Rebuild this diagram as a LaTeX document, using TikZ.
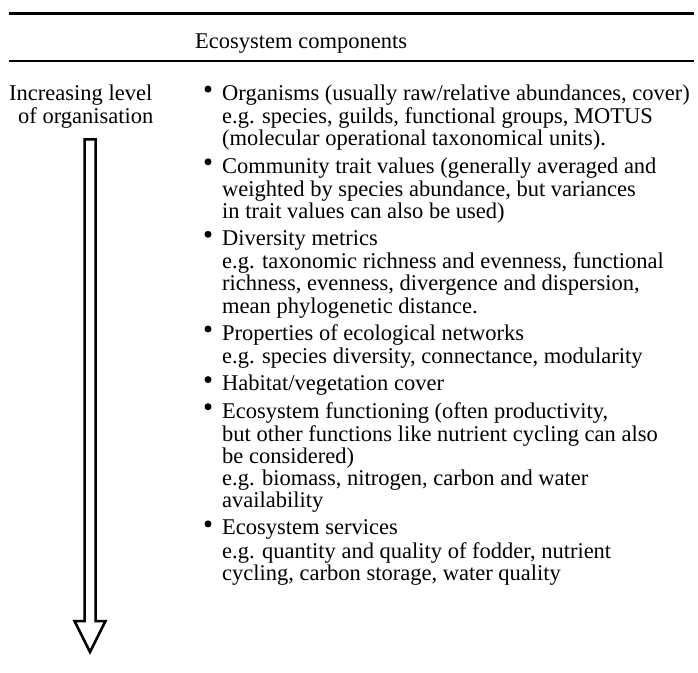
\documentclass[tikz,border=0pt]{standalone}
\usepackage{fontspec}
\setmainfont{Liberation Serif}
\usetikzlibrary{positioning}

\tikzset{
  rule/.style={line width=2.3pt},
  txt/.style={inner sep=0pt, font=\fontsize{22.5}{22.1}\selectfont},
  entry/.style={txt, anchor=north west, align=left},
  dot/.style={circle, fill, inner sep=0pt, minimum size=7pt},
}

\begin{document}
\begin{tikzpicture}[x=1pt, y=1pt]
\useasboundingbox (0,0) rectangle (698,-672);

% rules of the table head
\draw[rule] (9,-13.5) -- (694,-13.5);
\draw[rule] (9,-61) -- (694,-61);

\node[txt, anchor=base west] (head) at (195,-48) {Ecosystem components};
\node[entry] (level) at (9,-84.5)
  {\strut Increasing level\\\hspace*{9pt}of organisation};

% the list of components
\node[entry] (org) at (222,-84.5)
  {\strut Organisms (usually raw/relative abundances, cover)\\
   e.g. species, guilds, functional groups, MOTUS\\
   (molecular operational taxonomical units).\strut};
\node[entry, below=4.5pt of org.south west, anchor=north west] (trait)
  {\strut Community trait values (generally averaged and\\
   weighted by species abundance, but variances\\
   in trait values can also be used)\strut};
\node[entry, below=4.5pt of trait.south west, anchor=north west] (div)
  {\strut Diversity metrics\\
   e.g. taxonomic richness and evenness, functional\\
   richness, evenness, divergence and dispersion,\\
   mean phylogenetic distance.\strut};
\node[entry, below=4.5pt of div.south west, anchor=north west] (net)
  {\strut Properties of ecological networks\\
   e.g. species diversity, connectance, modularity\strut};
\node[entry, below=4.5pt of net.south west, anchor=north west] (hab)
  {\strut Habitat/vegetation cover\strut};
\node[entry, below=4.5pt of hab.south west, anchor=north west] (func)
  {\strut Ecosystem functioning (often productivity,\\
   but other functions like nutrient cycling can also\\
   be considered)\\
   e.g. biomass, nitrogen, carbon and water\\
   availability\strut};
\node[entry, below=4.5pt of func.south west, anchor=north west] (serv)
  {\strut Ecosystem services\\
   e.g. quantity and quality of fodder, nutrient\\
   cycling, carbon storage, water quality\strut};

\foreach \n in {org,trait,div,net,hab,func,serv}
  \node[dot] at ([xshift=-14pt, yshift=-4.6pt]\n.north west) {};

% hollow arrow down the left column
\draw[line width=2.5pt] (84.5,-139.3) -- (95.5,-139.3) -- (95.5,-621)
  -- (105.5,-621) -- (90,-652) -- (74.5,-621) -- (84.5,-621) -- cycle;

\end{tikzpicture}
\end{document}
